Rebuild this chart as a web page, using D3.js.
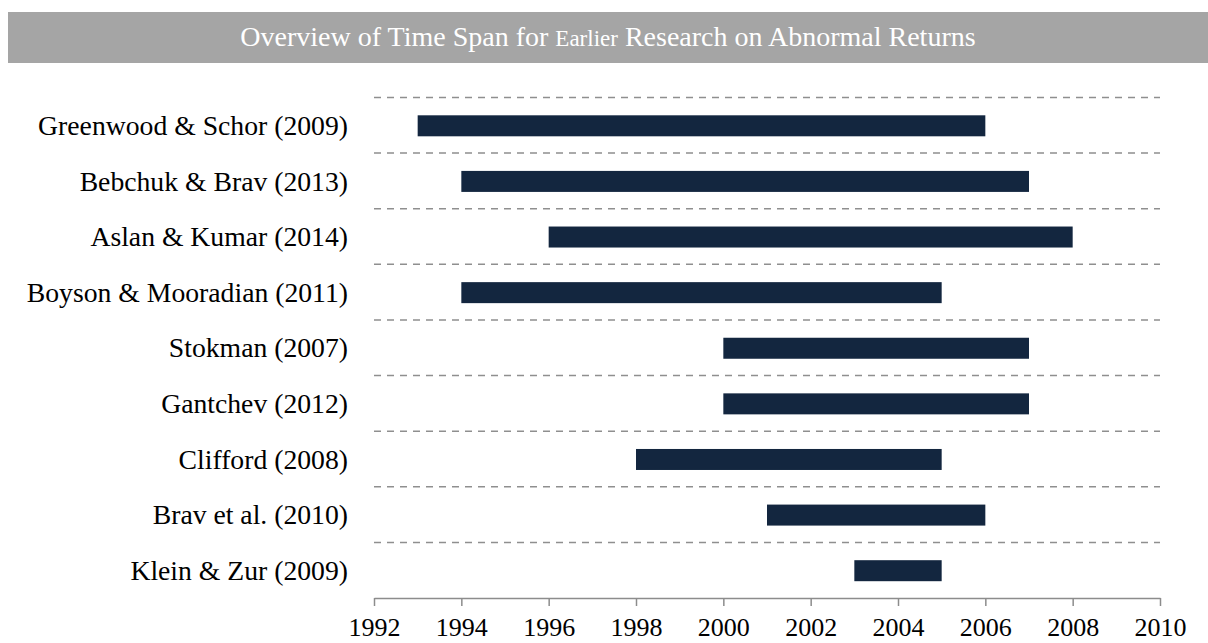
<!DOCTYPE html>
<html>
<head>
<meta charset="utf-8">
<script src="https://cdn.jsdelivr.net/npm/d3@7"></script>
<style>
  body { margin: 0; background: #fff; }
  text { font-family: "Liberation Serif", "Times New Roman", serif; }
</style>
</head>
<body>
<svg id="chart" width="1208" height="643"></svg>
<script>
// Time span of earlier studies on abnormal returns (gantt-style bars)
const studies = [
  "Greenwood & Schor (2009)",
  "Bebchuk & Brav (2013)",
  "Aslan & Kumar (2014)",
  "Boyson & Mooradian (2011)",
  "Stokman (2007)",
  "Gantchev (2012)",
  "Clifford (2008)",
  "Brav et al. (2010)",
  "Klein & Zur (2009)"
];
const startYears = [1993, 1994, 1996, 1994, 2000, 2000, 1998, 2001, 2003];
const endYears   = [2006, 2007, 2008, 2005, 2007, 2007, 2005, 2006, 2005];
const yearTicks  = [1992, 1994, 1996, 1998, 2000, 2002, 2004, 2006, 2008, 2010];

const data = studies.map((s, i) => ({ study: s, start: startYears[i], end: endYears[i] }));

const svg = d3.select("#chart");
const plot = { left: 374, right: 1160, top: 97.5, bottom: 598 };

// title banner
svg.append("rect")
  .attr("x", 8).attr("y", 12)
  .attr("width", 1200).attr("height", 51)
  .attr("fill", "#a5a5a5");

const title = svg.append("text")
  .attr("x", 608).attr("y", 46)
  .attr("text-anchor", "middle")
  .style("font-size", "28px")
  .style("fill", "#fff");
title.append("tspan").text("Overview of Time Span for ");
title.append("tspan").style("font-size", "23px").text("Earlier");
title.append("tspan").text(" Research on Abnormal Returns");

const x = d3.scaleLinear().domain([1992, 2010]).range([plot.left, plot.right]);
const y = d3.scaleBand().domain(studies).range([plot.top, plot.bottom]).padding(0);

// dashed separators at the top of each row
svg.append("g")
  .selectAll("line")
  .data(studies)
  .join("line")
  .attr("x1", plot.left).attr("x2", plot.right)
  .attr("y1", d => y(d)).attr("y2", d => y(d))
  .attr("stroke", "#8f8f8f")
  .attr("stroke-width", 1.5)
  .attr("stroke-dasharray", "7,6");

const barH = 21;
svg.append("g")
  .selectAll("rect")
  .data(data)
  .join("rect")
  .attr("x", d => x(d.start))
  .attr("y", d => y(d.study) + y.bandwidth() / 2 - barH / 2 + 0.5)
  .attr("width", d => x(d.end) - x(d.start))
  .attr("height", barH)
  .attr("fill", "#13263f");

// row labels
svg.append("g")
  .selectAll("text")
  .data(studies)
  .join("text")
  .attr("x", 348)
  .attr("y", d => y(d) + y.bandwidth() / 2)
  .attr("dy", "0.35em")
  .attr("text-anchor", "end")
  .style("font-size", "27.7px")
  .style("fill", "#000")
  .text(d => d);

// x axis
const xAxis = svg.append("g")
  .attr("transform", `translate(0,${plot.bottom})`)
  .call(d3.axisBottom(x).tickValues(yearTicks).tickFormat(d3.format("d"))
    .tickSize(8).tickSizeOuter(0).tickPadding(12));

xAxis.select(".domain").attr("stroke", "#8c8c8c").attr("stroke-width", 1.5);
xAxis.selectAll(".tick line").attr("stroke", "#8c8c8c").attr("stroke-width", 1.5);
xAxis.selectAll(".tick text")
  .style("font-family", "'Liberation Serif', serif")
  .style("font-size", "26px")
  .style("fill", "#000");
</script>
</body>
</html>
